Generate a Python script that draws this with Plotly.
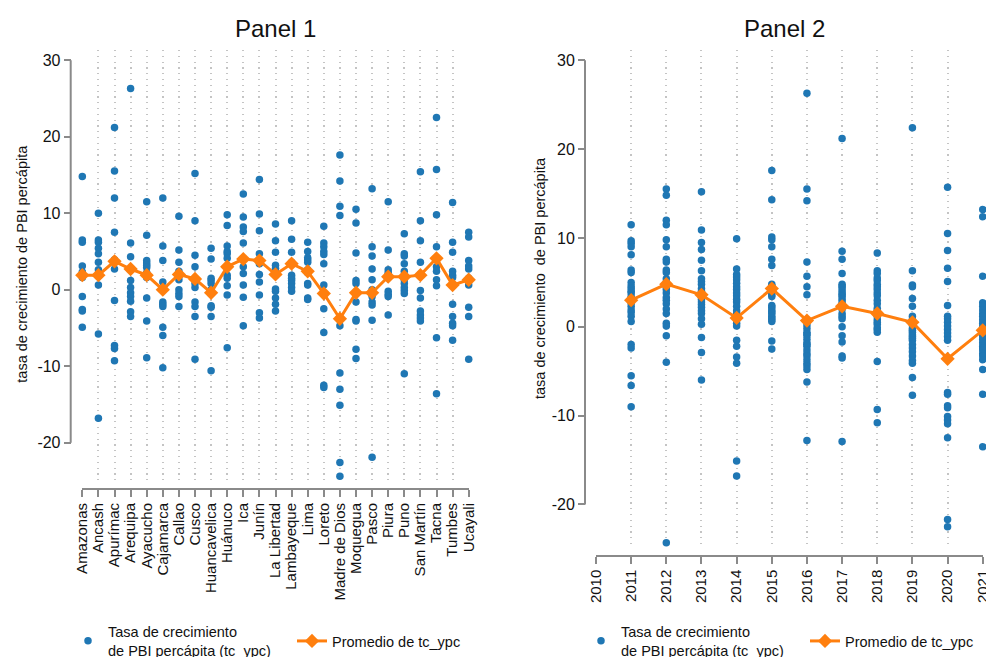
import plotly.graph_objects as go

# --- Datos -----------------------------------------------------------------
regiones = ["Amazonas", "Ancash", "Apurímac", "Arequipa", "Ayacucho", "Cajamarca",
            "Callao", "Cusco", "Huancavelica", "Huánuco", "Ica", "Junín",
            "La Libertad", "Lambayeque", "Lima", "Loreto", "Madre de Dios",
            "Moquegua", "Pasco", "Piura", "Puno", "San Martín", "Tacna",
            "Tumbes", "Ucayali"]

# tasa de crecimiento del PBI per cápita (%), 11 años por región
tc_por_region = [
    [14.8, 6.5, 6.2, 3.1, 2.3, 1.9, 1.6, -0.9, -2.6, -2.8, -4.9],
    [10.0, 6.5, 6.2, 5.4, 4.7, 3.6, 2.6, 1.8, 0.6, -5.8, -16.8],
    [21.2, 15.5, 12.0, 7.5, 3.9, 3.6, 2.7, -1.4, -7.3, -7.7, -9.3],
    [26.3, 6.1, 4.3, 2.6, 1.2, 0.3, -0.4, -0.9, -1.5, -2.9, -3.5],
    [11.5, 7.1, 3.8, 3.5, 3.2, 2.9, 2.2, 1.6, -1.1, -4.1, -8.9],
    [12.0, 5.7, 3.8, 1.0, 0.0, -1.6, -1.9, -2.2, -4.9, -6.0, -10.2],
    [9.6, 5.2, 3.6, 2.4, 2.1, 1.8, 1.3, 0.0, -0.5, -0.9, -2.2],
    [15.2, 9.0, 4.5, 3.0, 1.4, 0.8, 0.3, -1.6, -2.2, -3.5, -9.1],
    [5.4, 4.0, 1.5, 1.2, 0.8, 0.0, -0.4, -2.1, -2.3, -3.5, -10.6],
    [9.8, 8.4, 5.7, 5.0, 4.7, 4.1, 1.9, 1.5, 0.5, -0.7, -7.6],
    [12.5, 9.5, 8.2, 7.6, 6.1, 4.0, 3.0, 2.1, 0.6, -1.0, -4.7],
    [14.4, 9.9, 7.7, 4.7, 3.9, 3.4, 2.0, 1.0, -0.7, -3.0, -3.7],
    [8.6, 6.4, 4.9, 3.2, 2.8, 2.2, 0.1, -0.2, -1.1, -1.9, -2.8],
    [9.0, 6.6, 4.9, 3.6, 3.3, 1.9, 1.5, 1.2, 0.8, 0.3, -0.2],
    [6.2, 5.0, 4.2, 3.9, 3.6, 2.6, 2.2, 0.8, 0.6, -1.1, -1.3],
    [8.3, 6.1, 5.6, 5.0, 4.6, 3.4, 0.6, -2.5, -5.6, -12.5, -12.8],
    [17.6, 14.2, 10.9, 9.7, -3.8, -4.7, -10.9, -13.0, -15.1, -22.6, -24.4],
    [10.5, 8.7, 4.8, 1.2, 0.8, -0.4, -1.6, -3.9, -4.1, -7.8, -9.0],
    [13.2, 5.6, 4.4, 2.7, 1.3, 0.0, -0.9, -1.6, -2.0, -4.0, -21.9],
    [11.5, 5.2, 2.6, 2.2, 2.0, 1.8, 1.6, -0.2, -0.6, -0.9, -3.3],
    [7.3, 4.7, 4.4, 3.4, 2.4, 1.3, 0.8, 0.3, -0.1, -0.5, -11.0],
    [15.4, 9.0, 6.4, 3.6, 2.0, -0.1, -1.1, -2.8, -3.3, -3.7, -4.1],
    [22.5, 15.7, 9.8, 5.6, 4.1, 3.0, 2.4, 1.3, 0.5, -6.3, -13.6],
    [11.4, 6.2, 4.9, 2.4, 1.9, 1.6, -1.9, -3.5, -4.4, -4.7, -6.6],
    [7.5, 6.9, 3.8, 3.1, 2.7, 1.5, 1.2, 0.6, -2.3, -3.5, -9.1],
]
promedio_region = [1.9, 1.9, 3.7, 2.7, 1.9, 0.0, 2.0, 1.4, -0.4, 3.0, 4.0, 3.8, 2.0,
                   3.4, 2.4, -0.5, -3.8, -0.4, -0.4, 1.7, 1.7, 1.9, 4.1, 0.6, 1.3]

anios = [2011, 2012, 2013, 2014, 2015, 2016, 2017, 2018, 2019, 2020, 2021]
# tasa de crecimiento del PBI per cápita (%), 25 regiones por año
tc_por_anio = [
    [11.5, 9.7, 9.4, 9.0, 8.1, 6.4, 6.1, 5.0, 4.6, 4.3, 4.0, 3.8, 3.4, 3.2, 2.7,
     2.3, 1.9, 1.6, 1.2, 0.6, -2.0, -2.4, -5.5, -6.6, -9.0],
    [15.5, 14.8, 12.0, 11.5, 9.8, 9.0, 7.6, 7.3, 6.4, 6.1, 5.4, 5.0, 4.5, 4.2, 3.8,
     3.3, 3.0, 2.6, 2.0, 1.5, 0.4, 0.1, -1.0, -4.0, -24.3],
    [15.2, 10.9, 9.5, 8.7, 7.5, 6.3, 5.4, 5.1, 4.8, 4.3, 4.0, 3.8, 3.6, 3.4, 3.1,
     2.8, 2.5, 2.2, 1.8, 1.5, 0.9, 0.3, -1.2, -2.9, -6.0],
    [9.9, 6.5, 5.9, 5.6, 5.3, 4.9, 4.5, 4.2, 3.8, 3.5, 3.1, 2.8, 2.3, 1.8, 1.5,
     1.2, 0.8, 0.4, 0.1, -1.5, -2.2, -3.4, -4.1, -15.1, -16.8],
    [17.6, 14.3, 10.1, 9.8, 9.0, 7.6, 6.9, 4.8, 4.6, 4.4, 4.1, 3.9, 3.6, 3.4, 2.4,
     2.2, 1.9, 1.7, 1.5, 1.2, 1.0, 0.8, 0.6, -1.6, -2.5],
    [26.3, 15.5, 14.2, 7.3, 5.7, 4.5, 3.6, 0.2, -0.2, -0.6, -0.8, -1.0, -1.4, -1.8,
     -2.0, -2.2, -2.6, -3.0, -3.3, -3.7, -4.1, -4.4, -4.8, -6.2, -12.8],
    [21.2, 8.5, 7.6, 6.0, 4.8, 4.6, 4.4, 4.1, 3.8, 3.6, 3.4, 3.1, 2.8, 2.5, 2.3,
     2.0, 1.5, 1.2, 0.9, 0.0, -1.0, -1.7, -3.3, -3.5, -12.9],
    [8.3, 6.3, 6.0, 5.5, 5.2, 4.8, 4.5, 4.2, 3.8, 3.5, 3.0, 2.6, 2.1, 1.8, 1.5,
     1.2, 0.8, 0.5, 0.3, -0.1, -0.3, -0.6, -3.9, -9.3, -10.8],
    [22.4, 6.3, 4.7, 4.5, 3.2, 2.3, 1.2, 0.8, 0.5, 0.2, -0.2, -0.4, -0.6, -0.9,
     -1.1, -1.3, -1.5, -2.0, -2.4, -2.8, -3.3, -3.8, -4.1, -5.7, -7.7],
    [15.7, 10.5, 8.6, 6.6, 5.1, 2.4, 1.2, 0.9, 0.5, 0.1, -0.3, -0.7, -1.1, -1.5,
     -3.6, -7.4, -7.6, -8.9, -9.1, -10.1, -10.5, -10.9, -12.5, -21.7, -22.5],
    [13.2, 12.4, 5.7, 2.7, 2.3, 1.9, 1.5, 1.2, 0.8, 0.4, 0.0, -0.4, -0.8, -1.1,
     -1.4, -1.8, -2.2, -2.4, -2.6, -3.0, -3.3, -3.7, -4.8, -7.6, -13.5],
]
promedio_anio = [3.0, 4.8, 3.6, 1.0, 4.3, 0.7, 2.3, 1.5, 0.5, -3.6, -0.4]

anios_eje = list(range(2010, 2022))
ticks_y = [-20, -10, 0, 10, 20, 30]

# --- Estilo ------------------------------------------------------------------
W, H = 986, 657
FONT = "Liberation Sans, Arial, sans-serif"
TXT = "#111111"
AZUL = "#1f77b4"
NARANJA = "#ff7f0e"
GRIS_EJE = "#8a8a8a"
GRIS_GRID = "#c4c4c4"
NOMBRE_PUNTOS = "Tasa de crecimiento<br>de PBI percápita (tc_ypc)"
NOMBRE_PROM = "Promedio de tc_ypc"


def px_x(p):
    return p / W


def px_y(p):
    return 1 - p / H


fig = go.Figure()

# Panel 1: por región
xs1 = [r for r, vals in zip(regiones, tc_por_region) for _ in vals]
ys1 = [v for vals in tc_por_region for v in vals]
fig.add_trace(go.Scatter(
    x=xs1, y=ys1, mode="markers", name=NOMBRE_PUNTOS,
    marker=dict(color=AZUL, size=7.5, line=dict(width=0)),
    cliponaxis=False, xaxis="x", yaxis="y", legend="legend"))
fig.add_trace(go.Scatter(
    x=regiones, y=promedio_region, mode="lines+markers", name=NOMBRE_PROM,
    line=dict(color=NARANJA, width=3),
    marker=dict(symbol="diamond", size=11, color=NARANJA),
    cliponaxis=False, xaxis="x", yaxis="y", legend="legend2"))

# Panel 2: por año
xs2 = [a for a, vals in zip(anios, tc_por_anio) for _ in vals]
ys2 = [v for vals in tc_por_anio for v in vals]
fig.add_trace(go.Scatter(
    x=xs2, y=ys2, mode="markers", name=NOMBRE_PUNTOS,
    marker=dict(color=AZUL, size=7.5, line=dict(width=0)),
    cliponaxis=False, xaxis="x2", yaxis="y2", legend="legend3"))
fig.add_trace(go.Scatter(
    x=anios, y=promedio_anio, mode="lines+markers", name=NOMBRE_PROM,
    line=dict(color=NARANJA, width=3),
    marker=dict(symbol="diamond", size=11, color=NARANJA),
    cliponaxis=False, xaxis="x2", yaxis="y2", legend="legend4"))

tick_font_x = dict(family=FONT, size=15, color=TXT)
tick_font_y = dict(family=FONT, size=16, color=TXT)
marcas = dict(ticks="outside", ticklen=7, tickwidth=2, tickcolor=GRIS_EJE, zeroline=False,
              ticklabeloverflow="allow")
grid_x = dict(showgrid=True, gridcolor=GRIS_GRID, gridwidth=2.2, griddash="1.2px,4.6px")


def leyenda(x_px):
    return dict(
        orientation="v", x=px_x(x_px), y=px_y(641), xanchor="left", yanchor="middle",
        font=dict(family=FONT, size=14.5, color=TXT), bgcolor="rgba(0,0,0,0)",
        borderwidth=0, itemclick=False, itemdoubleclick=False, visible=True)


fig.update_layout(
    width=W, height=H,
    margin=dict(l=0, r=0, t=0, b=0, autoexpand=False),
    paper_bgcolor="white", plot_bgcolor="white",
    font=dict(family=FONT, color=TXT),
    hovermode=False,
    showlegend=True,
    xaxis=dict(
        type="category", categoryorder="array", categoryarray=regiones,
        range=[0, len(regiones) - 1],
        tickmode="array", tickvals=regiones, ticktext=regiones,
        domain=[px_x(82.3), px_x(468.7)], anchor="free", position=px_y(489),
        showline=True, linecolor=GRIS_EJE, linewidth=2, tickangle=-90,
        tickfont=tick_font_x, **grid_x, **marcas),
    yaxis=dict(
        range=[-25.14, 31.33], domain=[px_y(482), px_y(50)],
        anchor="free", position=px_x(70.7), showline=False, showgrid=False,
        tickvals=ticks_y, ticktext=[str(t) for t in ticks_y],
        tickfont=tick_font_y, **marcas),
    xaxis2=dict(
        range=[anios_eje[0], anios_eje[-1] + 0.002],
        domain=[px_x(596), px_x(982.8)], anchor="free", position=px_y(555.7),
        showline=True, linecolor=GRIS_EJE, linewidth=2, tickangle=-90,
        tickmode="array", tickvals=anios_eje, ticktext=[str(a) for a in anios_eje],
        tickfont=tick_font_x, **grid_x, **marcas),
    yaxis2=dict(
        range=[-24.9, 31.16], domain=[px_y(548), px_y(50)],
        anchor="free", position=px_x(585), showline=False, showgrid=False,
        tickvals=ticks_y, ticktext=[str(t) for t in ticks_y],
        tickfont=tick_font_y, **marcas),
    legend=leyenda(68),
    legend2=leyenda(292),
    legend3=leyenda(581),
    legend4=leyenda(805),
)

# Líneas de los ejes verticales, solo entre la primera y la última marca
for pos, yref in ((70.7, "y"), (585, "y2")):
    fig.add_shape(type="line", xref="paper", yref=yref,
                  x0=px_x(pos), x1=px_x(pos), y0=min(ticks_y), y1=max(ticks_y),
                  line=dict(color=GRIS_EJE, width=2), layer="above")

# Títulos de los paneles y de los ejes
titulos = [
    ("Panel 1", 275.5, 28, 0, 24),
    ("Panel 2", 784, 28, 0, 24),
    ("tasa de crecimiento de PBI percápita", 21.7, 264, -90, 14.5),
    ("tasa de crecimiento\u00a0 de PBI percápita", 540, 278, -90, 14.5),
]
for texto, cx, cy, ang, tam in titulos:
    fig.add_annotation(text=texto, textangle=ang, x=px_x(cx), y=px_y(cy),
                       xref="paper", yref="paper", xanchor="center", yanchor="middle",
                       showarrow=False, font=dict(family=FONT, size=tam, color=TXT))

fig.write_html("out.html", config={"displayModeBar": False})
